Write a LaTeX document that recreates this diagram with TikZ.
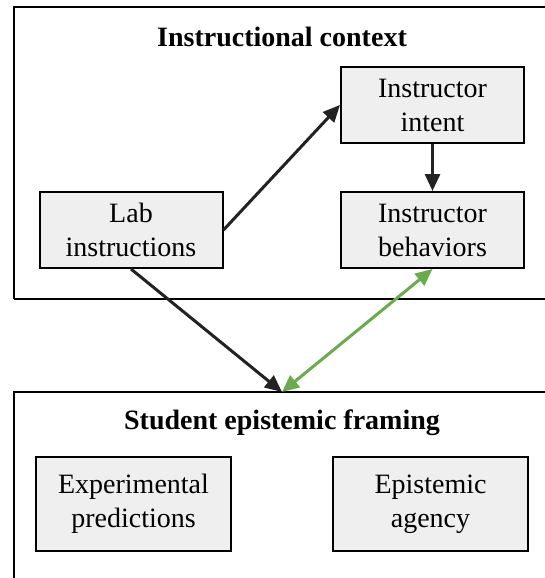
\documentclass[tikz,border=0pt]{standalone}
\usepackage{fontspec}
\setmainfont{Liberation Serif}
\usetikzlibrary{arrows.meta}
\definecolor{boxfill}{HTML}{EFEFEF}
\definecolor{arrowdark}{HTML}{222222}
\definecolor{arrowgreen}{HTML}{6AAB4F}
\tikzset{
  inner/.style={draw=black, line width=2pt, fill=boxfill, minimum width=183pt, minimum height=76pt,
    align=center, inner sep=0pt, font=\fontsize{28}{34}\selectfont},
  frame/.style={draw=black, line width=2pt},
  titletext/.style={font=\fontsize{28}{32}\selectfont\bfseries, inner sep=0pt},
  conn/.style={draw=arrowdark, line width=3pt, -{Triangle[length=17pt,width=15pt]}},
  gconn/.style={draw=arrowgreen, line width=3pt, {Triangle[length=17pt,width=15pt]}-{Triangle[length=17pt,width=15pt]}}
}
\begin{document}
\begin{tikzpicture}[x=1pt,y=1pt]
\useasboundingbox (0,0) rectangle (544,-578);
% frames
\draw[frame] (14,-299) -- (14,-7) -- (560,-7);
\draw[frame] (14,-299) -- (560,-299);
\draw[frame] (14,-600) -- (14,-392) -- (560,-392);
% titles
\node[titletext] (t1) at (282,-37) {Instructional context};
\node[titletext] (t2) at (282,-423) {Student epistemic framing};
% boxes
\node[inner] (lab) at (131,-230) {Lab\\instructions};
\node[inner] (intent) at (432.5,-105) {Instructor\\intent};
\node[inner] (behav) at (432.5,-230) {Instructor\\behaviors};
\node[inner, minimum width=195pt, minimum height=94pt] (exp) at (133.5,-504) {Experimental\\predictions};
\node[inner, minimum width=195pt, minimum height=94pt] (agency) at (430.5,-504) {Epistemic\\agency};
\coordinate (meet) at (282,-392);
% connectors
\draw[conn] (lab.east) -- (intent.west);
\draw[conn] (intent.south) -- (behav.north);
\draw[conn] (lab.south) -- (meet);
\draw[gconn] (meet) -- (behav.south);
\end{tikzpicture}
\end{document}
